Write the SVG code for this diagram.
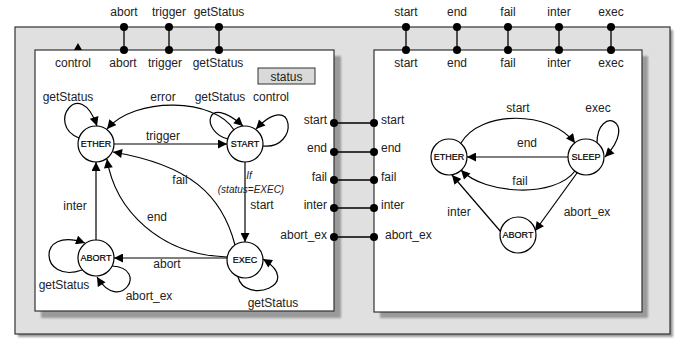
<svg xmlns="http://www.w3.org/2000/svg" width="680" height="340" viewBox="0 0 680 340">
  <style>
    text { font-family: "Liberation Sans", Arial, sans-serif; font-size: 12px; fill: #222; }
    .mid { text-anchor: middle; }
    .end { text-anchor: end; }
    .st { font-size: 9px; text-anchor: middle; fill: #000; stroke: #000; stroke-width: 0.2; }
    .cond { font-size: 10px; font-style: italic; text-anchor: middle; }
    .state { fill: #fff; stroke: #000; stroke-width: 1.2; }
    .edge { fill: none; stroke: #000; stroke-width: 1.2; marker-end: url(#arr); }
    .wire { fill: none; stroke: #000; stroke-width: 1.3; }
    .port { fill: #000; }
    .frame { stroke: #333; stroke-width: 1.2; }
    .shadow { fill: #9a9a9a; filter: url(#soft); }
  </style>
  <defs>
    <marker id="arr" viewBox="0 0 10 10" refX="10" refY="5" markerWidth="10" markerHeight="9" orient="auto" markerUnits="userSpaceOnUse">
      <path d="M0,0 L10,5 L0,10 z" fill="#000"/>
    </marker>
    <filter id="soft" x="-5%" y="-5%" width="110%" height="110%">
      <feGaussianBlur stdDeviation="1.2"/>
    </filter>
  </defs>

  <!-- outer component frame -->
  <g id="outer">
    <rect class="shadow" x="18" y="30" width="655" height="307"/>
    <rect class="frame" x="15" y="27" width="655" height="307" fill="#e0e0e0"/>
  </g>

  <!-- left inner component -->
  <g id="left-box">
    <rect class="shadow" x="41" y="56" width="300" height="262"/>
    <rect class="frame" x="35" y="50" width="299" height="261" fill="#fff"/>
    <path d="M74,50 L78,43 L82,50 z" fill="#000"/>
    <text class="mid" x="73" y="67">control</text>
  </g>
  <g id="status">
    <rect x="258" y="68" width="57" height="16" fill="#d9d9d9" stroke="#333" stroke-width="1"/>
    <text class="mid" x="286.5" y="80.5">status</text>
  </g>

  <!-- right inner component -->
  <g id="right-box">
    <rect class="shadow" x="380" y="56" width="268" height="262"/>
    <rect class="frame" x="374" y="50" width="268" height="262" fill="#fff"/>
  </g>

  <!-- ports and wires -->
  <g id="ports">
    <line class="wire" x1="124" y1="27" x2="124" y2="50"/>
    <line class="wire" x1="169" y1="27" x2="169" y2="50"/>
    <line class="wire" x1="219" y1="27" x2="219" y2="50"/>
    <line class="wire" x1="406" y1="27" x2="406" y2="50"/>
    <line class="wire" x1="457" y1="27" x2="457" y2="50"/>
    <line class="wire" x1="508" y1="27" x2="508" y2="50"/>
    <line class="wire" x1="559" y1="27" x2="559" y2="50"/>
    <line class="wire" x1="611" y1="27" x2="611" y2="50"/>
    <line class="wire" x1="334" y1="123" x2="374" y2="123"/>
    <line class="wire" x1="334" y1="152" x2="374" y2="152"/>
    <line class="wire" x1="334" y1="180" x2="374" y2="180"/>
    <line class="wire" x1="334" y1="208" x2="374" y2="208"/>
    <line class="wire" x1="334" y1="237" x2="374" y2="237"/>

    <circle class="port" cx="124" cy="27" r="4"/>
    <circle class="port" cx="169" cy="27" r="4"/>
    <circle class="port" cx="219" cy="27" r="4"/>
    <circle class="port" cx="124" cy="50" r="4"/>
    <circle class="port" cx="169" cy="50" r="4"/>
    <circle class="port" cx="219" cy="50" r="4"/>
    <circle class="port" cx="406" cy="27" r="4"/>
    <circle class="port" cx="457" cy="27" r="4"/>
    <circle class="port" cx="508" cy="27" r="4"/>
    <circle class="port" cx="559" cy="27" r="4"/>
    <circle class="port" cx="611" cy="27" r="4"/>
    <circle class="port" cx="406" cy="50" r="4"/>
    <circle class="port" cx="457" cy="50" r="4"/>
    <circle class="port" cx="508" cy="50" r="4"/>
    <circle class="port" cx="559" cy="50" r="4"/>
    <circle class="port" cx="611" cy="50" r="4"/>
    <circle class="port" cx="334" cy="123" r="4"/>
    <circle class="port" cx="334" cy="152" r="4"/>
    <circle class="port" cx="334" cy="180" r="4"/>
    <circle class="port" cx="334" cy="208" r="4"/>
    <circle class="port" cx="334" cy="237" r="4"/>
    <circle class="port" cx="374" cy="123" r="4"/>
    <circle class="port" cx="374" cy="152" r="4"/>
    <circle class="port" cx="374" cy="180" r="4"/>
    <circle class="port" cx="374" cy="208" r="4"/>
    <circle class="port" cx="374" cy="237" r="4"/>

    <text class="mid" x="124" y="16">abort</text>
    <text class="mid" x="169" y="16">trigger</text>
    <text class="mid" x="219" y="16">getStatus</text>
    <text class="mid" x="123" y="67">abort</text>
    <text class="mid" x="165" y="67">trigger</text>
    <text class="mid" x="218" y="67">getStatus</text>

    <text class="mid" x="406" y="16">start</text>
    <text class="mid" x="457" y="16">end</text>
    <text class="mid" x="508" y="16">fail</text>
    <text class="mid" x="559" y="16">inter</text>
    <text class="mid" x="611" y="16">exec</text>
    <text class="mid" x="406" y="67">start</text>
    <text class="mid" x="457" y="67">end</text>
    <text class="mid" x="508" y="67">fail</text>
    <text class="mid" x="559" y="67">inter</text>
    <text class="mid" x="611" y="67">exec</text>

    <text class="end" x="327" y="124">start</text>
    <text class="end" x="327" y="152">end</text>
    <text class="end" x="327" y="181">fail</text>
    <text class="end" x="327" y="209">inter</text>
    <text class="end" x="327" y="239">abort_ex</text>
    <text x="381" y="124">start</text>
    <text x="381" y="152">end</text>
    <text x="381" y="181">fail</text>
    <text x="381" y="209">inter</text>
    <text x="385" y="239">abort_ex</text>
  </g>

  <!-- transitions -->
  <g id="connectors">
    <!-- left machine -->
    <path class="edge" d="M114,144 L227,144"/>
    <path class="edge" d="M234,130 C215,98 135,96 107,129"/>
    <path class="edge" d="M79,138 C45,125 80,75 97,126"/>
    <path class="edge" d="M228,139 C200,132 205,92 243,126"/>
    <path class="edge" d="M263,146 C300,150 295,88 256,129"/>
    <path class="edge" d="M245,162 L245,242"/>
    <path class="edge" d="M238,277 C245,305 305,285 263,259"/>
    <path class="edge" d="M227,258 L114,258"/>
    <path class="edge" d="M96,240 L96,162"/>
    <path class="edge" d="M235,245 C222,195 190,165 113,152"/>
    <path class="edge" d="M227,257 C160,255 115,210 107,159"/>
    <path class="edge" d="M82,270 C40,285 35,225 85,243"/>
    <path class="edge" d="M112,266 C150,268 120,315 97,277"/>
    <!-- right machine -->
    <path class="edge" d="M461,143 C480,110 550,110 575,143"/>
    <path class="edge" d="M568,157 L467,157"/>
    <path class="edge" d="M575,171 C555,198 485,195 461,170"/>
    <path class="edge" d="M597,143 C597,105 640,120 605,157"/>
    <path class="edge" d="M577,173 L535,231"/>
    <path class="edge" d="M501,232 L452,175"/>

    <!-- labels -->
    <text class="mid" x="68" y="101">getStatus</text>
    <text class="mid" x="163" y="101">error</text>
    <text class="mid" x="220" y="101">getStatus</text>
    <text class="mid" x="271" y="101">control</text>
    <text class="mid" x="163" y="140">trigger</text>
    <text class="mid" x="180" y="184">fail</text>
    <text class="cond" x="249" y="179">If</text>
    <text class="cond" x="251" y="193">(status=EXEC)</text>
    <text class="mid" x="262" y="209">start</text>
    <text class="mid" x="75" y="210">inter</text>
    <text class="mid" x="157" y="221">end</text>
    <text class="mid" x="167" y="268">abort</text>
    <text class="mid" x="64" y="289">getStatus</text>
    <text class="mid" x="149" y="300">abort_ex</text>
    <text class="mid" x="273" y="307">getStatus</text>

    <text class="mid" x="518" y="112">start</text>
    <text class="mid" x="598" y="112">exec</text>
    <text class="mid" x="527" y="147">end</text>
    <text class="mid" x="520" y="185">fail</text>
    <text class="mid" x="459" y="216">inter</text>
    <text class="mid" x="587" y="216">abort_ex</text>
  </g>

  <!-- states -->
  <g id="l-ether"><circle class="state" cx="96" cy="144" r="18"/><text class="st" x="96" y="147">ETHER</text></g>
  <g id="l-start"><circle class="state" cx="245" cy="144" r="18"/><text class="st" x="245" y="147">START</text></g>
  <g id="l-exec"><circle class="state" cx="245" cy="260" r="18"/><text class="st" x="245" y="263">EXEC</text></g>
  <g id="l-abort"><circle class="state" cx="96" cy="258" r="18"/><text class="st" x="96" y="261">ABORT</text></g>
  <g id="r-ether"><circle class="state" cx="449" cy="157" r="18"/><text class="st" x="449" y="160">ETHER</text></g>
  <g id="r-sleep"><circle class="state" cx="586" cy="157" r="18"/><text class="st" x="586" y="160">SLEEP</text></g>
  <g id="r-abort"><circle class="state" cx="518" cy="235" r="18"/><text class="st" x="518" y="238">ABORT</text></g>
</svg>
